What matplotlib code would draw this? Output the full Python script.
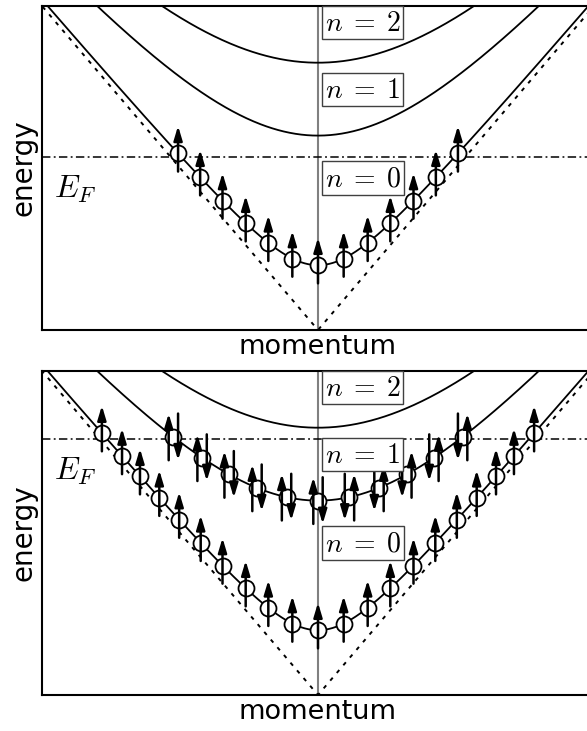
import numpy as np
import matplotlib
matplotlib.use('Agg')
import matplotlib.pyplot as plt

plt.rcParams['mathtext.fontset'] = 'cm'

# subband energies at k=0 (n=0,1,2) and their labels
band_gap = [0.20, 0.60, 0.825]
band_names = [r'$n\;=\;0$', r'$n\;=\;1$', r'$n\;=\;2$']
label_y = [0.469, 0.742, 0.949]

# Fermi level of each panel
fermi = [0.535, 0.79]

# occupied states: momentum of each circle
k_n0_top = [-0.507, -0.427, -0.346, -0.262, -0.18, -0.093, 0.0,
            0.093, 0.18, 0.262, 0.346, 0.427, 0.507]
k_n0_bottom = [-0.783, -0.71, -0.645, -0.575, -0.503, -0.425, -0.346,
               -0.262, -0.18, -0.093, 0.0, 0.093, 0.18, 0.262, 0.346,
               0.425, 0.503, 0.575, 0.645, 0.71, 0.783]
k_n1_bottom = [-0.524, -0.42, -0.322, -0.221, -0.114, 0.0,
               0.114, 0.221, 0.322, 0.42, 0.524]

panels = [
    {'fermi': fermi[0], 'states': [(0, k_n0_top, 'up')]},
    {'fermi': fermi[1], 'states': [(0, k_n0_bottom, 'up'), (1, k_n1_bottom, 'both')]},
]


def band(k, gap):
    return np.sqrt(np.asarray(k) ** 2 + gap ** 2)


def arrow(ax, x, y0, y1):
    ax.annotate('', xy=(x, y1), xytext=(x, y0),
                arrowprops=dict(arrowstyle='-|>,head_length=0.5,head_width=0.15',
                                color='k', lw=1.8,
                                mutation_scale=17, shrinkA=0, shrinkB=0),
                zorder=5)


def draw_panel(ax, ef, states):
    k = np.linspace(-1.05, 1.05, 500)
    ax.axvline(0, color='0.5', lw=1.5, zorder=1)
    ax.plot(k, np.abs(k), color='k', lw=1.4, ls=(0, (2, 3.2)), zorder=1)
    for g in band_gap:
        ax.plot(k, band(k, g), color='k', lw=1.3, zorder=2)
    ax.axhline(ef, color='k', lw=1.1, ls=(0, (5.5, 2.2, 1.2, 2.2)), zorder=1)
    ax.text(-0.955, ef - 0.10, '$E_F$', fontsize=23, va='center', ha='left')

    for n, ks, spin in states:
        ks = np.asarray(ks)
        es = band(ks, band_gap[n])
        ax.plot(ks, es, 'o', ms=11.5, mfc='white', mec='k', mew=1.3, zorder=4)
        for kk, e in zip(ks, es):
            if spin == 'up':
                arrow(ax, kk, e - 0.056, e + 0.085)
            else:
                s = -1 if kk <= 0 else 1
                arrow(ax, kk + s * 0.017, e - 0.072, e + 0.072)
                arrow(ax, kk - s * 0.017, e + 0.072, e - 0.072)

    for name, y in zip(band_names, label_y):
        ax.text(0.024, y, name, fontsize=20, va='center', ha='left', zorder=6,
                bbox=dict(boxstyle='square,pad=0.1', fc='white', ec='0.25', lw=1))

    ax.set_xlim(-1, 1)
    ax.set_ylim(0, 1.0)
    ax.set_xticks([])
    ax.set_yticks([])
    for side in ['left', 'top', 'bottom']:
        ax.spines[side].set_linewidth(1.5)
    ax.spines['right'].set_visible(False)
    ax.set_xlabel('momentum', fontsize=19.5, labelpad=3)
    ax.set_ylabel('energy', fontsize=20, labelpad=3)


fig = plt.figure(figsize=(5.87, 7.31), dpi=100)
ax_top = fig.add_axes([42 / 587, 401 / 731, 552 / 587, 324 / 731])
ax_bot = fig.add_axes([42 / 587, 36 / 731, 552 / 587, 324 / 731])

for ax, p in zip([ax_top, ax_bot], panels):
    draw_panel(ax, p['fermi'], p['states'])

fig.savefig('out.png', dpi=100)
